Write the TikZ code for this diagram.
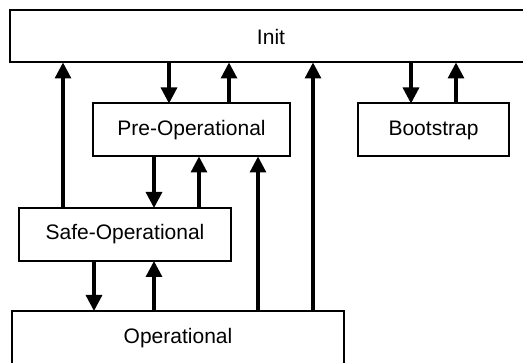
\documentclass[tikz,border=0pt]{standalone}
\usepackage{fontspec}
\setmainfont{Liberation Sans}
\usetikzlibrary{arrows.meta}
\tikzset{
  statebox/.style={draw=black, line width=2pt, fill=white, rectangle, outer sep=0pt, inner sep=0pt, font=\fontsize{21}{25}\selectfont},
  arr/.style={line width=3.2pt, -{Triangle[length=16pt,width=16pt]}},
}
\begin{document}
\begin{tikzpicture}[x=1pt,y=-1pt]
\useasboundingbox (0,0) rectangle (523,363);
\clip (0,0) rectangle (523,363);
\node[statebox, minimum width=522pt, minimum height=52pt] (init) at (271,36.5) {Init};
\node[statebox, minimum width=197pt, minimum height=53pt] (pre) at (191.5,130) {Pre-Operational};
\node[statebox, minimum width=151pt, minimum height=53pt] (boot) at (433.5,130) {Bootstrap};
\node[statebox, minimum width=212pt, minimum height=53pt] (safe) at (125,234.5) {Safe-Operational};
\node[statebox, minimum width=332pt, minimum height=55pt] (op) at (178,338.5) {Operational};
% Init <-> others
\draw[arr] (safe.north -| 63,0) -- (init.south -| 63,0);
\draw[arr] (init.south -| 169,0) -- (pre.north -| 169,0);
\draw[arr] (pre.north -| 229,0) -- (init.south -| 229,0);
\draw[arr] (op.north -| 313,0) -- (init.south -| 313,0);
\draw[arr] (init.south -| 411,0) -- (boot.north -| 411,0);
\draw[arr] (boot.north -| 456,0) -- (init.south -| 456,0);
% Pre-Op <-> others
\draw[arr] (pre.south -| 154,0) -- (safe.north -| 154,0);
\draw[arr] (safe.north -| 199,0) -- (pre.south -| 199,0);
\draw[arr] (op.north -| 258,0) -- (pre.south -| 258,0);
% Safe-Op <-> Op
\draw[arr] (safe.south -| 94,0) -- (op.north -| 94,0);
\draw[arr] (op.north -| 154,0) -- (safe.south -| 154,0);
\end{tikzpicture}
\end{document}
